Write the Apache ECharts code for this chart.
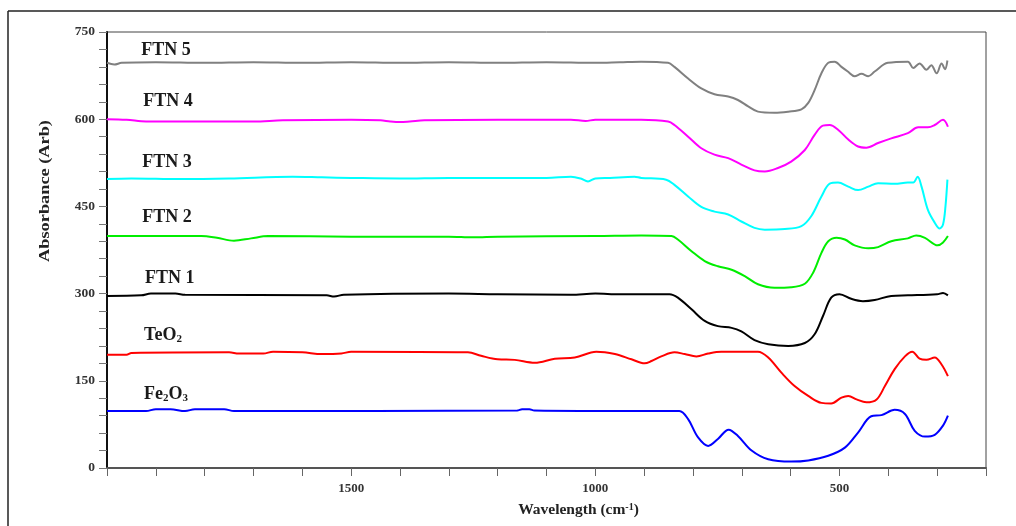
<!DOCTYPE html>
<html>
<head>
<meta charset="utf-8">
<script src="https://cdn.jsdelivr.net/npm/echarts@6/dist/echarts.min.js"></script>
<style>
  html, body { margin: 0; padding: 0; background: #fff; }
  #chart { width: 1016px; height: 526px; }
</style>
</head>
<body>
<div id="chart"></div>
<script>
// FTIR absorbance spectra, [wavenumber (cm-1), absorbance (Arb)]
const fe2o3 = [[2000,98],[1920,98],[1900,101],[1870,101],[1840,98],[1820,101],[1760,101],[1740,98],[1160,99],[1150,101],[1135,101],[1125,99],[906,98],
  [828,98],[810,84],[790,53],[769,38],[749,50],[727,66],[708,55],[680,30],[646,15],[599,11],[564,13],[523,21],[489,35],[462,61],[435,89],[414,91],[387,100],[366,93],[346,64],[325,54],[305,57],[288,73],[278,90]];

const teo2 = [[2000,195],[1960,195],[1950,198],[1750,199],[1730,197],[1680,197],[1660,200],[1600,199],[1560,196],[1520,197],[1500,200],[1261,199],[1234,193],[1200,187],[1165,186],[1124,181],[1083,188],[1042,190],[998,200],[960,196],[926,187],[899,180],[885,184],[865,192],
  [838,199],[817,196],[793,192],[769,197],[742,200],[667,200],[646,190],[619,164],[592,141],[564,124],[537,112],[517,111],[496,121],[482,124],[465,118],[445,113],[424,118],[407,141],[387,170],[366,192],[351,200],[336,188],[322,186],[305,190],[291,178],[278,158]];

const ftn1 = [[2000,296],[1930,297],[1910,300],[1860,300],[1840,298],[1550,297],[1535,295],[1515,298],[1300,300],[1200,299],[1050,298],[1000,300],[950,299],[906,299],
  [848,299],[831,293],[803,273],[776,253],[749,244],[721,241],[701,235],[674,220],[646,213],[605,210],[571,215],[551,230],[534,261],[517,293],[500,299],[476,291],[452,287],[428,289],[394,296],[360,297],[300,299],[288,301],[278,297]];

const ftn2 = [[2000,399],[1950,399],[1807,399],[1775,396],[1740,391],[1705,395],[1670,399],[1500,398],[1300,398],[1250,397],[1200,398],[1000,399],[906,400],
  [844,399],[831,393],[803,373],[776,356],[749,347],[721,341],[694,330],[667,316],[633,310],[599,311],[571,317],[554,336],[537,370],[523,390],[506,396],[489,393],[469,383],[441,378],[421,380],[394,390],[360,395],[343,400],[325,396],[299,383],[288,388],[278,399]];

const ftn3 = [[2000,497],[1950,498],[1850,497],[1750,498],[1620,501],[1560,500],[1500,499],[1400,498],[1300,499],[1100,499],[1050,501],[1030,498],[1015,493],[1000,498],[970,499],[920,501],[906,499],
  [855,496],[838,487],[810,467],[783,449],[756,441],[728,436],[701,424],[674,413],[653,410],[612,411],[578,416],[558,433],[537,467],[520,489],[503,491],[482,484],[462,478],[441,484],[421,490],[387,489],[360,491],[349,491],[340,501],[332,484],[319,444],[305,422],[295,412],[288,419],[283,450],[279,496]];

const ftn4 = [[2000,600],[1960,599],[1920,596],[1800,596],[1700,596],[1640,598],[1500,599],[1440,598],[1420,596],[1400,595],[1380,596],[1350,598],[1200,599],[1050,599],[1020,597],[1000,599],[950,599],[906,599],
  [851,596],[838,590],[810,570],[783,550],[756,539],[728,533],[701,522],[674,512],[653,510],[626,516],[599,527],[571,547],[551,573],[534,589],[520,590],[503,582],[482,565],[462,553],[445,551],[421,559],[394,567],[360,576],[339,586],[319,586],[305,590],[288,599],[278,587]];

const ftn5 = [[2000,697],[1985,694],[1970,697],[1900,698],[1800,697],[1700,698],[1600,697],[1500,698],[1400,697],[1300,698],[1200,697],[1100,698],[1000,697],[950,698],[906,699],
  [851,697],[838,690],[810,670],[783,653],[756,643],[728,639],[708,633],[687,622],[667,613],[633,611],[605,613],[578,617],[564,628],[551,650],[537,679],[523,697],[510,699],[496,690],[483,682],[469,674],[455,678],[441,674],[428,682],[401,697],[360,699],[349,688],[336,696],[322,685],[312,693],[301,679],[291,696],[284,686],[279,701]];

const seriesNames = ['Fe2O3', 'TeO2', 'FTN 1', 'FTN 2', 'FTN 3', 'FTN 4', 'FTN 5'];
const seriesLabels = ['Fe{s|2}O{s|3}', 'TeO{s|2}', 'FTN 1', 'FTN 2', 'FTN 3', 'FTN 4', 'FTN 5'];
const seriesData = [fe2o3, teo2, ftn1, ftn2, ftn3, ftn4, ftn5];

// x tick positions and y tick positions that carry a label
const xLabelTicks = [1500, 1000, 500];
const yLabelTicks = [0, 150, 300, 450, 600, 750];

const FONT = '"Liberation Serif", "Times New Roman", serif';
const colors = ['#0000ff', '#ff0000', '#000000', '#00ee00', '#00ffff', '#ff00ff', '#808080'];
// where each curve's caption sits, in axis units
const captionAt = [[1924, 127], [1924, 228], [1922, 326], [1928, 431], [1928, 525], [1926, 631], [1930, 719]];

const chart = echarts.init(document.getElementById('chart'), null, { renderer: 'canvas' });

const series = seriesData.map((d, i) => ({
  name: seriesNames[i],
  type: 'line',
  data: d,
  showSymbol: false,
  smooth: 0.35,
  lineStyle: { color: colors[i], width: 2 },
  itemStyle: { color: colors[i] },
  silent: true,
  markPoint: {
    symbol: 'circle',
    symbolSize: 0,
    silent: true,
    data: [{ coord: captionAt[i] }],
    label: {
      show: true,
      position: 'right',
      distance: 0,
      formatter: seriesLabels[i],
      fontFamily: FONT,
      fontWeight: 'bold',
      fontSize: 18,
      color: '#1a1a1a',
      rich: {
        s: { fontFamily: FONT, fontWeight: 'bold', fontSize: 11, color: '#1a1a1a', verticalAlign: 'bottom', padding: [7, 0, 0, 0] }
      }
    }
  }
}));

chart.setOption({
  animation: false,
  backgroundColor: '#fff',
  grid: {
    left: 107, right: 30, top: 32, bottom: 58,
    outerBoundsMode: 'none',
    containLabel: false,
    show: true, borderColor: '#444', borderWidth: 1
  },
  xAxis: {
    type: 'value',
    inverse: true,
    min: 200, max: 2000, interval: 100,
    splitLine: { show: false },
    axisLine: { show: true, onZero: false, lineStyle: { color: '#555', width: 2 } },
    axisTick: { show: true, inside: false, length: 8, lineStyle: { color: '#666', width: 1 } },
    axisLabel: {
      margin: 14,
      fontFamily: FONT, fontWeight: 'bold', fontSize: 13, color: '#333',
      formatter: v => (xLabelTicks.includes(v) ? String(v) : '')
    },
    name: 'Wavelength (cm{sup|-1})',
    nameLocation: 'middle',
    nameGap: 34,
    nameTextStyle: {
      fontFamily: FONT, fontWeight: 'bold', fontSize: 15.5, color: '#222',
      padding: [0, 0, 0, 64],
      rich: {
        sup: { fontFamily: FONT, fontWeight: 'bold', fontSize: 10, color: '#222', verticalAlign: 'top', padding: [0, 0, 6, 0] }
      }
    }
  },
  yAxis: {
    type: 'value',
    min: 0, max: 750, interval: 30,
    splitLine: { show: false },
    axisLine: { show: true, onZero: false, lineStyle: { color: '#111', width: 2 } },
    axisTick: { show: true, inside: false, length: 8, lineStyle: { color: '#777', width: 1 } },
    axisLabel: {
      margin: 12,
      fontFamily: FONT, fontWeight: 'bold', fontSize: 13.5, color: '#333',
      formatter: v => (yLabelTicks.includes(v) ? String(v) : '')
    }
  },
  graphic: [
    { type: 'line', shape: { x1: 8, y1: 11, x2: 1016, y2: 11 }, style: { stroke: '#222', lineWidth: 1.5 }, silent: true },
    { type: 'line', shape: { x1: 8, y1: 11, x2: 8, y2: 526 }, style: { stroke: '#222', lineWidth: 1.5 }, silent: true },
    {
      type: 'text', x: 45, y: 191, rotation: Math.PI / 2, scaleX: 1.22, silent: true,
      style: {
        text: 'Absorbance (Arb)', align: 'center', verticalAlign: 'middle',
        fontFamily: FONT, fontWeight: 'bold', fontSize: 15, fill: '#222'
      }
    }
  ],
  series: series
});
</script>
</body>
</html>
